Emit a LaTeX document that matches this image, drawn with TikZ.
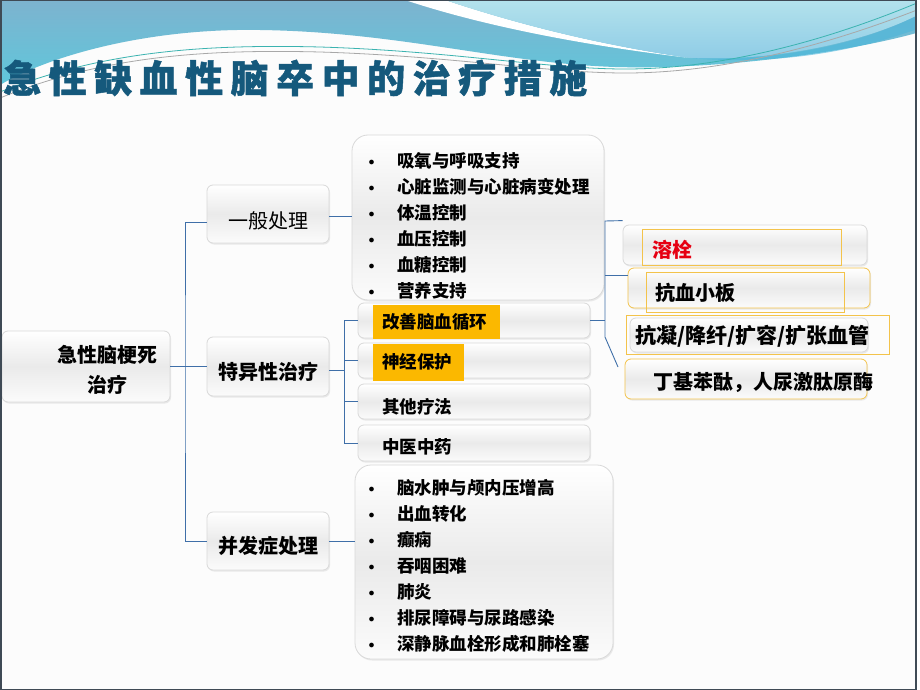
\documentclass[tikz,border=0pt]{standalone}
\usepackage{fontspec}
\newfontfamily\cjk{Noto Sans CJK SC}
\newfontfamily\titlef{Noto Sans CJK SC}[FakeBold=1.2]
\usetikzlibrary{shadows}
\definecolor{lineblue}{HTML}{3F6FA8}
\definecolor{amber}{HTML}{FBB800}
\definecolor{ylw}{HTML}{F3C34B}
\definecolor{boxedge}{HTML}{D9D9D9}
\definecolor{boxmid}{HTML}{EAEAEA}
\definecolor{titlec}{HTML}{15597C}
\definecolor{hdA}{HTML}{7DB3CF}
\definecolor{hdB}{HTML}{5FC7DB}
\definecolor{hdC}{HTML}{B3E2EC}
\definecolor{hdD}{HTML}{8DCBE6}
\definecolor{hdE}{HTML}{4BB5DA}
\definecolor{tealline}{HTML}{3BB3B0}
\definecolor{grayline}{HTML}{A8A8A8}
\definecolor{framec}{HTML}{3F4A55}
\definecolor{bg}{HTML}{FCFCFC}
\definecolor{redtxt}{HTML}{E60012}
\newcommand\tsp{\hspace{7.5pt}}
\newcommand\bul{\makebox[29pt][l]{\hspace{0.5pt}\raisebox{2.5pt}{\fontsize{12}{12}\selectfont$\bullet$}}}
\begin{document}
\begin{tikzpicture}[x=1pt,y=-1pt,
  glossy/.style={draw=boxedge, line width=0.8pt, top color=white, bottom color=white!97!gray, middle color=boxmid,
     drop shadow={opacity=0.15, shadow xshift=1pt, shadow yshift=-1.5pt}},
  rbox/.style={glossy, rectangle, rounded corners=6pt, inner sep=0pt},
  bigbox/.style={glossy, rectangle, rounded corners=16pt, inner sep=0pt},
  conn/.style={draw=lineblue, line width=0.9pt},
  tx/.style={inner sep=0pt, text=black},
  bold20/.style={tx, font=\cjk\bfseries\fontsize{20}{30}\selectfont},
  reg20/.style={tx, font=\cjk\fontsize{20}{30}\selectfont},
  bsev/.style={tx, font=\cjk\bfseries\fontsize{17.5}{26}\selectfont},
  hlite/.style={fill=amber, draw=none, inner sep=0pt, rectangle},
  yrect/.style={draw=ylw, line width=1pt, inner sep=0pt, rectangle}]
\useasboundingbox (0,0) rectangle (920,690);
% background and header
\fill[bg] (0,0) rectangle (920,690);
\shade[top color=hdA, bottom color=hdB] (0,0) -- (920,0) -- (920,32) .. controls (850,52) and (720,70) .. (615,67) .. controls (500,63) and (400,32) .. (260,30) .. controls (150,28) and (50,55) .. (0,85) -- cycle;
\fill[white] (405,0) .. controls (480,25) and (580,45) .. (690,58) .. controls (600,45) and (520,25) .. (445,0) -- cycle;
\shade[top color=hdC, bottom color=hdD] (445,0) .. controls (520,25) and (600,45) .. (690,58) .. controls (780,62) and (870,40) .. (920,14) -- (920,0) -- cycle;
\fill[hdE, opacity=0.6] (690,58) .. controls (790,62) and (870,40) .. (920,14) -- (920,28) .. controls (860,50) and (780,66) .. (690,58) -- cycle;
\draw[tealline, line width=0.8pt] (0,92) .. controls (100,52) and (200,44) .. (320,47) .. controls (450,51) and (540,68) .. (620,69) .. controls (730,70) and (840,35) .. (917,3);
\draw[grayline, line width=0.8pt] (0,98) .. controls (100,57) and (200,49) .. (320,52) .. controls (450,56) and (540,72) .. (620,73) .. controls (730,74) and (840,40) .. (917,10);
\node[anchor=west, inner sep=0pt, text=titlec, font=\titlef\bfseries\fontsize{38}{38}\selectfont] (title) at (3,78)
  {急\tsp 性\tsp 缺\tsp 血\tsp 性\tsp 脑\tsp 卒\tsp 中\tsp 的\tsp 治\tsp 疗\tsp 措\tsp 施};
% boxes
\node[rbox, minimum width=168pt, minimum height=71pt] (root) at (86,366.5) {};
\node[rbox, minimum width=122pt, minimum height=58pt] (gen) at (268,214) {};
\node[rbox, minimum width=122pt, minimum height=59pt] (spec) at (268,366.5) {};
\node[rbox, minimum width=122pt, minimum height=58pt] (comp) at (268,541) {};
\node[bigbox, minimum width=252pt, minimum height=165pt] (list1) at (478,217.5) {};
\node[bigbox, minimum width=258pt, minimum height=194pt] (list2) at (484,562) {};
\node[rbox, minimum width=232pt, minimum height=35pt] (s1) at (474,320.5) {};
\node[rbox, minimum width=232pt, minimum height=35pt] (s2) at (474,360.5) {};
\node[rbox, minimum width=232pt, minimum height=35pt] (s3) at (474,401.5) {};
\node[rbox, minimum width=232pt, minimum height=36pt] (s4) at (474,443) {};
\node[hlite, minimum width=127pt, minimum height=34pt] (h1) at (436.5,322) {};
\node[hlite, minimum width=91pt, minimum height=37pt] (h2) at (418.5,362.5) {};
\node[rbox, minimum width=244pt, minimum height=40pt] (r1) at (745,245) {};
\node[yrect, minimum width=199pt, minimum height=36pt] (y1) at (741.5,247) {};
\node[rbox, draw=ylw, minimum width=242pt, minimum height=40pt] (r2) at (749,288) {};
\node[yrect, minimum width=198pt, minimum height=40pt] (y2) at (745,292) {};
\node[rbox, minimum width=238pt, minimum height=34pt] (r3) at (749,335) {};
\node[yrect, minimum width=263pt, minimum height=39pt] (y3) at (757.5,334.5) {};
\node[rbox, draw=ylw, minimum width=242pt, minimum height=40pt] (r4) at (746,379) {};
% texts
\node[bold20, align=center] (rootT) at (107,370) {急性脑梗死\\治疗};
\node[reg20] (genT) at (268,221) {一般处理};
\node[bold20] (specT) at (268,372) {特异性治疗};
\node[bold20] (compT) at (268,546) {并发症处理};
\node[bsev, anchor=base west] (list1T) at (368,167.6) {\begin{tabular}[t]{@{}l@{}}
\bul 吸氧与呼吸支持\\ \bul 心脏监测与心脏病变处理\\ \bul 体温控制\\ \bul 血压控制\\ \bul 血糖控制\\ \bul 营养支持\end{tabular}};
\node[bsev, anchor=base west] (list2T) at (368,494.6) {\begin{tabular}[t]{@{}l@{}}
\bul 脑水肿与颅内压增高\\ \bul 出血转化\\ \bul 癫痫\\ \bul 吞咽困难\\ \bul 肺炎\\ \bul 排尿障碍与尿路感染\\ \bul 深静脉血栓形成和肺栓塞\end{tabular}};
\node[bsev, anchor=west] (s1T) at (382,322) {改善脑血循环};
\node[bsev, anchor=west] (s2T) at (382,362) {神经保护};
\node[bsev, anchor=west] (s3T) at (382,407) {其他疗法};
\node[bsev, anchor=west] (s4T) at (382,447) {中医中药};
\node[bold20, anchor=west, text=redtxt] (r1T) at (652,250) {溶栓};
\node[bold20, anchor=west] (r2T) at (655,293) {抗血小板};
\node[tx, font=\cjk\bfseries\fontsize{21}{30}\selectfont, anchor=west] (r3T) at (635,336) {抗凝/降纤/扩容/扩张血管};
\node[bold20, anchor=west] (r4T) at (653,382) {丁基苯酞，人尿激肽原酶};
% connectors
\coordinate (trunk) at (185,366.5);
\draw[conn] (root.east) -- (spec.west);
\draw[conn] ([yshift=-8pt]gen.west) -| (trunk) |- (comp.west);
\draw[conn] ([yshift=-2pt]gen.east) -- ([yshift=-2pt]gen.east -| list1.west);
\draw[conn] (comp.east) -- (comp.east -| list2.west);
\coordinate (sbar) at (344,370);
\draw[conn] ([yshift=-3.5pt]spec.east) -- (sbar);
\draw[conn] (s1.west) -- (s1.west -| sbar) -- (s4.west -| sbar) -- (s4.west);
\draw[conn] (s2.west) -- (s2.west -| sbar);
\draw[conn] (s3.west) -- (s3.west -| sbar);
\coordinate (rtop) at (605,221);
\coordinate (rbot) at (605,337);
\coordinate (rend) at (618,367);
\draw[conn] ([yshift=4pt]r1.north west) -- (rtop) -- (rbot) -- (rend);
\draw[conn] (s1.east) -- (s1.east -| rtop);
\coordinate (r2t) at ([yshift=-8pt]r2.north west);
\draw[conn] (r2t) -- (r2t -| rtop);
% frame
\fill[white] (916.75,0) rectangle (920,690);
\draw[framec, line width=1.5pt] (0.75,0.75) rectangle (916,689.25);
\end{tikzpicture}
\end{document}
